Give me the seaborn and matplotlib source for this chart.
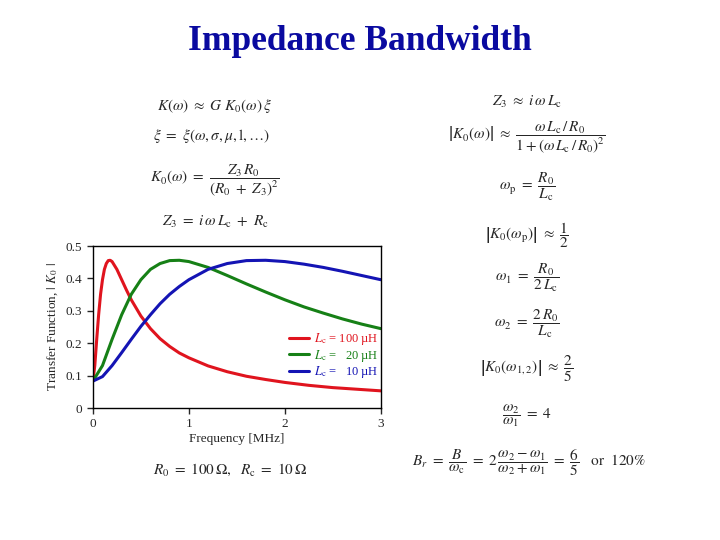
import pandas as pd
import matplotlib.pyplot as plt
import seaborn as sns

# frequency [MHz] and |K0|
freq_100 = [0, 0.02, 0.04, 0.06, 0.08, 0.10, 0.12, 0.14, 0.16, 0.18, 0.20, 0.25, 0.30,
            0.35, 0.40, 0.50, 0.60, 0.70, 0.80, 0.90, 1.0, 1.2, 1.4, 1.6, 1.8, 2.0,
            2.25, 2.5, 2.75, 3.0]
k0_100 = [0.083, 0.131, 0.212, 0.288, 0.351, 0.396, 0.428, 0.446, 0.455, 0.456, 0.452,
          0.428, 0.396, 0.364, 0.334, 0.284, 0.245, 0.214, 0.190, 0.170, 0.155, 0.130,
          0.112, 0.098, 0.088, 0.079, 0.070, 0.063, 0.058, 0.053]

freq_20 = [0, 0.1, 0.2, 0.3, 0.4, 0.5, 0.6, 0.7, 0.8, 0.9, 1.0, 1.2, 1.4, 1.6, 1.8, 2.0,
           2.2, 2.4, 2.6, 2.8, 3.0]
k0_20 = [0.083, 0.131, 0.212, 0.288, 0.351, 0.396, 0.428, 0.446, 0.455, 0.456, 0.452,
         0.434, 0.409, 0.383, 0.358, 0.334, 0.312, 0.293, 0.275, 0.259, 0.245]

freq_10 = [0, 0.1, 0.2, 0.3, 0.4, 0.5, 0.6, 0.7, 0.8, 0.9, 1.0, 1.2, 1.4, 1.6, 1.8, 2.0,
           2.2, 2.4, 2.6, 2.8, 3.0]
k0_10 = [0.083, 0.097, 0.131, 0.171, 0.212, 0.252, 0.288, 0.322, 0.351, 0.375, 0.396,
         0.428, 0.446, 0.455, 0.456, 0.452, 0.444, 0.434, 0.422, 0.409, 0.396]

labels = [r'$L_\mathrm{c}$ = 100 µH', r'$L_\mathrm{c}$ =   20 µH', r'$L_\mathrm{c}$ =   10 µH']
colors = ['#e0141e', '#168016', '#1414b4']

df = pd.concat([
    pd.DataFrame({'f': freq_100, 'k': k0_100, 'Lc': labels[0]}),
    pd.DataFrame({'f': freq_20, 'k': k0_20, 'Lc': labels[1]}),
    pd.DataFrame({'f': freq_10, 'k': k0_10, 'Lc': labels[2]}),
])

sns.set_style("white")
plt.rcParams['font.family'] = ['Liberation Serif', 'DejaVu Serif']
plt.rcParams['mathtext.fontset'] = 'stix'
plt.rcParams['axes.linewidth'] = 1

fig = plt.figure(figsize=(7.2, 5.4), dpi=100)
ax = fig.add_axes([0.129, 0.2444, 0.4, 0.3])

sns.lineplot(data=df, x='f', y='k', hue='Lc', palette=colors, linewidth=2.2,
             estimator=None, sort=True, ax=ax)

ax.set_xlim(0, 3)
ax.set_ylim(0, 0.5)
ax.set_xticks([0, 1, 2, 3])
ax.set_xticklabels(['0', '1', '2', '3'])
ax.set_yticks([0, 0.1, 0.2, 0.3, 0.4, 0.5])
ax.set_yticklabels(['0', '0.1', '0.2', '0.3', '0.4', '0.5'])
ax.tick_params(direction='out', length=4, width=1, labelsize=9.5, left=True, bottom=True)
for s in ax.spines.values():
    s.set_color('black')
ax.set_xlabel('Frequency [MHz]', fontsize=9.5, labelpad=2)
ax.set_ylabel(r'Transfer Function, $|\ K_0\ |$', fontsize=9.5, labelpad=4)

leg = ax.legend(loc='upper left', bbox_to_anchor=(0.642, 0.545), frameon=False,
                fontsize=9, handlelength=1.6, handletextpad=0.4, labelspacing=0.05)
for txt, c in zip(leg.get_texts(), colors):
    txt.set_color(c)

fig.text(0.5, 1 - 42 / 540, 'Impedance Bandwidth', ha='center', va='center',
         fontsize=25.5, fontweight='bold', color='#0a0aa0')

eq = dict(ha='center', va='center', fontsize=11)
# left column
fig.text(215 / 720, 1 - 106 / 540, r'$K(\omega)\ \approx\ G\ K_0(\omega)\,\xi$', **eq)
fig.text(212 / 720, 1 - 136 / 540, r'$\xi\ =\ \xi(\omega,\sigma,\mu,\mathrm{l},\ldots)$', **eq)
fig.text(215 / 720, 1 - 180 / 540, r'$K_0(\omega)\ =\ \dfrac{Z_3\,R_0}{(R_0\ +\ Z_3)^2}$', **eq)
fig.text(215 / 720, 1 - 222 / 540, r'$Z_3\ =\ i\,\omega\,L_\mathrm{c}\ +\ R_\mathrm{c}$', **eq)
# right column
fig.text(527 / 720, 1 - 102 / 540, r'$Z_3\ \approx\ i\,\omega\,L_\mathrm{c}$', **eq)
fig.text(527 / 720, 1 - 137 / 540,
         r'$\left|K_0(\omega)\right|\ \approx\ \dfrac{\omega\,L_\mathrm{c}\,/\,R_0}{1+(\omega\,L_\mathrm{c}\,/\,R_0)^2}$', **eq)
fig.text(527 / 720, 1 - 187 / 540, r'$\omega_\mathrm{p}\ =\ \dfrac{R_0}{L_\mathrm{c}}$', **eq)
fig.text(527 / 720, 1 - 235 / 540, r'$\left|K_0(\omega_\mathrm{p})\right|\ \approx\ \dfrac{1}{2}$', **eq)
fig.text(527 / 720, 1 - 278 / 540, r'$\omega_1\ =\ \dfrac{R_0}{2\,L_\mathrm{c}}$', **eq)
fig.text(527 / 720, 1 - 324 / 540, r'$\omega_2\ =\ \dfrac{2\,R_0}{L_\mathrm{c}}$', **eq)
fig.text(527 / 720, 1 - 369 / 540, r'$\left|K_0(\omega_{1,2})\right|\ \approx\ \dfrac{2}{5}$', **eq)
fig.text(527 / 720, 1 - 416 / 540, r'$\dfrac{\omega_2}{\omega_1}\ =\ 4$', **eq)
fig.text(529 / 720, 1 - 463 / 540,
         r'$B_r\ =\ \dfrac{B}{\omega_\mathrm{c}}\ =\ 2\,\dfrac{\omega_2-\omega_1}{\omega_2+\omega_1}\ =\ \dfrac{6}{5}\quad\mathrm{or}\ \ 120\%$', **eq)
# bottom
fig.text(230 / 720, 1 - 470 / 540, r'$R_0\ =\ 100\,\Omega,\ \ R_\mathrm{c}\ =\ 10\,\Omega$', **eq)

fig.savefig('out.png', dpi=100)
